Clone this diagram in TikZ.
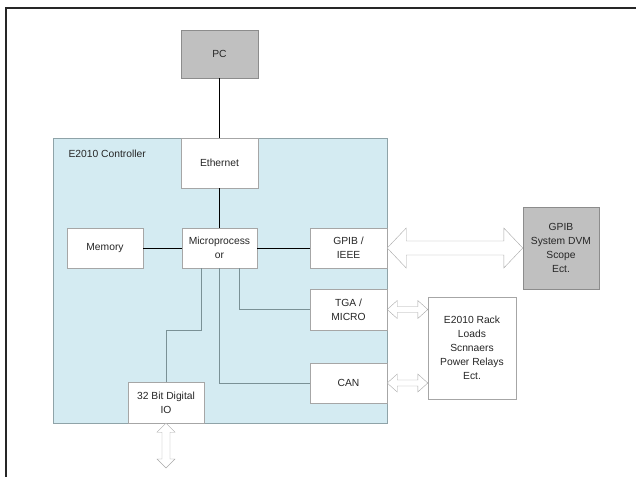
\documentclass[tikz,border=0pt]{standalone}
\usepackage{fontspec}
\setmainfont{Liberation Sans}
\usetikzlibrary{calc}

\definecolor{ctrlblue}{HTML}{D4EBF2}
\definecolor{ctrledge}{HTML}{8FA3A8}
\definecolor{extgray}{HTML}{C0C0C0}
\definecolor{extedge}{HTML}{8C8C8C}
\definecolor{boxgray}{HTML}{A6A6A6}
\definecolor{busgray}{HTML}{7A9196}
\definecolor{arrowgray}{HTML}{A8A8A8}

% hollow double arrow: from, to, shaft half width, head half width, head length
\newcommand{\dblarrow}[5]{%
  \path ($(#1)!#5!(#2)$) coordinate (ha) ($(#2)!#5!(#1)$) coordinate (hb);
  \draw [fatarrow] (#1) -- ($(ha)!#4!90:(#2)$) -- ($(ha)!#3!90:(#2)$)
    -- ($(hb)!#3!-90:(#1)$) -- ($(hb)!#4!-90:(#1)$) -- (#2)
    -- ($(hb)!#4!90:(#1)$) -- ($(hb)!#3!90:(#1)$)
    -- ($(ha)!#3!-90:(#2)$) -- ($(ha)!#4!-90:(#2)$) -- cycle;}

\begin{document}
\begin{tikzpicture}[x=1pt,y=-1pt,font=\fontsize{10.3}{14}\selectfont,
    blk/.style={draw=boxgray,fill=white,align=center,inner sep=0pt,
      minimum width=77pt,minimum height=40pt,text=black!85},
    ext/.style={blk,fill=extgray,draw=extedge},
    wire/.style={black,semithick},
    bus/.style={busgray,semithick},
    fatarrow/.style={draw=arrowgray,fill=white,line join=miter}]

    \useasboundingbox (0,0) rectangle (636,477);

    % Page frame
    \draw [line width=1.3pt,black!85] (636,8) -- (6,8) -- (6,477);

    % Controller area
    \draw [draw=ctrledge,fill=ctrlblue] (53,138) rectangle (387,423);
    \node [anchor=west,text=black!85] (ctrllabel) at (65,154) {E2010 Controller};

    % Outside units
    \node [ext,minimum height=48pt] (pc) at (219.5,54) {PC};
    \node [ext,minimum width=76pt,minimum height=82pt] (gsys) at (561,248)
        {GPIB\\System DVM\\Scope\\Ect.};
    \node [blk,minimum width=88pt,minimum height=102pt] (rack) at (472,348)
        {E2010 Rack\\Loads\\Scnnaers\\Power Relays\\Ect.};

    % Controller blocks
    \node [blk,minimum height=50pt] (eth) at (219.5,163) {Ethernet};
    \node [blk,minimum width=76pt] (mem) at (105,248) {Memory};
    \node [blk,minimum width=75pt] (micro) at (219.5,248) {Microprocess\\or};
    \node [blk] (gpib) at (348.5,248) {GPIB /\\IEEE};
    \node [blk,minimum height=41pt] (tga) at (348.5,309.5) {TGA /\\MICRO};
    \node [blk] (can) at (348.5,383) {CAN};
    \node [blk,minimum width=76pt,minimum height=41pt] (dio) at (166,402.5)
        {32 Bit Digital\\IO};

    % Main links
    \draw [wire] (pc) -- (eth);
    \draw [wire] (eth) -- (micro);
    \draw [wire] (mem) -- (micro);
    \draw [wire] (micro) -- (gpib);

    % Internal bus lines
    \draw [bus] ([xshift=-18.5pt]micro.south) -- ++(0,62) -| (dio.north);
    \draw [bus] (micro.south) |- (can.west);
    \draw [bus] ([xshift=19.5pt]micro.south) |- (tga.west);

    % External links
    \coordinate (tgaend) at (rack.west |- tga.east);
    \coordinate (canend) at (rack.west |- can.east);
    \coordinate (dioend) at (166,468);
    \dblarrow{gpib.east}{gsys.west}{7pt}{20pt}{19pt}
    \dblarrow{tga.east}{tgaend}{3pt}{9pt}{10pt}
    \dblarrow{can.east}{canend}{3pt}{9pt}{10pt}
    \dblarrow{dio.south}{dioend}{4pt}{9pt}{9pt}

\end{tikzpicture}
\end{document}
